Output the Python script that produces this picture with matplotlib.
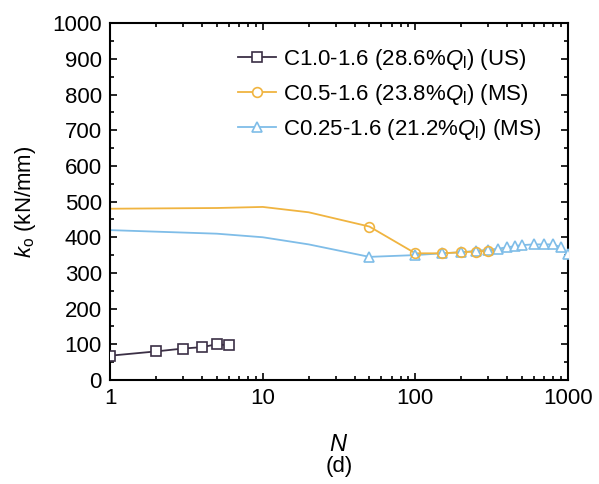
import matplotlib
matplotlib.use("Agg")
import matplotlib.pyplot as plt
from matplotlib.ticker import MultipleLocator, LogLocator, NullFormatter

plt.rcParams['font.family'] = ['Liberation Sans', 'DejaVu Sans']
plt.rcParams['mathtext.fontset'] = 'custom'
plt.rcParams['mathtext.rm'] = 'Liberation Sans'
plt.rcParams['mathtext.it'] = 'Liberation Sans:italic'

# C1.0-1.6 (US)
n_us = [1, 2, 3, 4, 5, 6]
k_us = [68, 80, 88, 92, 100, 97]

# C0.5-1.6 (MS): curve + marked points
n_ms05 = [1, 5, 10, 20, 50, 100, 150, 200, 250, 300, 400, 500]
k_ms05 = [480, 482, 485, 470, 430, 355, 355, 358, 360, 362, 364, 366]
n_ms05_mk = [50, 100, 150, 200, 250, 300]
k_ms05_mk = [430, 355, 355, 358, 360, 362]

# C0.25-1.6 (MS)
n_ms025 = [1, 5, 10, 20, 50, 100, 150, 200, 250, 300, 350, 400, 450, 500, 600, 700, 800, 900, 1000]
k_ms025 = [420, 410, 400, 380, 345, 350, 355, 358, 362, 365, 368, 372, 375, 378, 380, 380, 380, 372, 352]
n_ms025_mk = [50, 100, 150, 200, 250, 300, 350, 400, 450, 500, 600, 700, 800, 900, 1000]
k_ms025_mk = [345, 350, 355, 358, 362, 365, 368, 372, 375, 378, 380, 380, 380, 372, 352]

c_us = '#3b2f45'
c_05 = '#f0b440'
c_025 = '#7fbde8'

fig = plt.figure(figsize=(5.99, 4.84), dpi=100)
ax = fig.add_axes([0.184, 0.215, 0.764, 0.737])

ax.plot(n_ms025, k_ms025, '-', color=c_025, lw=1.3, zorder=2)
ax.plot(n_ms025_mk, k_ms025_mk, '^', color=c_025, mfc='white', ms=7, mew=1.2, zorder=3)
ax.plot(n_ms05, k_ms05, '-', color=c_05, lw=1.3, zorder=2)
ax.plot(n_ms05_mk, k_ms05_mk, 'o', color=c_05, mfc='none', ms=7, mew=1.2, zorder=3)
ax.plot(n_us, k_us, '-s', color=c_us, mfc='white', ms=6.5, mew=1.2, lw=1.3, zorder=3)

# legend proxies
h1, = ax.plot([], [], '-s', color=c_us, mfc='white', ms=6.5, mew=1.2, lw=1.3)
h2, = ax.plot([], [], '-o', color=c_05, mfc='white', ms=7, mew=1.2, lw=1.3)
h3, = ax.plot([], [], '-^', color=c_025, mfc='white', ms=7, mew=1.2, lw=1.3)
ax.legend([h1, h2, h3],
          [r'C1.0-1.6 (28.6%$Q_{\rm l}$) (US)',
           r'C0.5-1.6 (23.8%$Q_{\rm l}$) (MS)',
           r'C0.25-1.6 (21.2%$Q_{\rm l}$) (MS)'],
          loc='upper right', frameon=False, fontsize=16, handlelength=1.7,
          handletextpad=0.3, labelspacing=0.45, borderaxespad=0.5,
          bbox_to_anchor=(0.985, 0.99))

ax.set_xscale('log')
ax.set_xlim(1, 1000)
ax.set_ylim(0, 1000)
ax.yaxis.set_major_locator(MultipleLocator(100))
ax.yaxis.set_minor_locator(MultipleLocator(50))
ax.xaxis.set_minor_locator(LogLocator(base=10, subs=range(2, 10)))
ax.xaxis.set_minor_formatter(NullFormatter())
ax.set_xticks([1, 10, 100, 1000])
ax.set_xticklabels(['1', '10', '100', '1000'])
ax.tick_params(which='both', direction='in', top=True, right=True, labelsize=16, width=1.2)
ax.tick_params(which='major', length=5, pad=6)
ax.tick_params(which='minor', length=3)
for s in ax.spines.values():
    s.set_linewidth(1.5)

ax.set_ylabel(r'$k_{\rm o}$ (kN/mm)', fontsize=16, labelpad=10)
ax.set_xlabel(r'$N$', fontsize=17, labelpad=18)
fig.text(0.566, 0.025, '(d)', ha='center', fontsize=16)

fig.savefig('out.png', dpi=100)
